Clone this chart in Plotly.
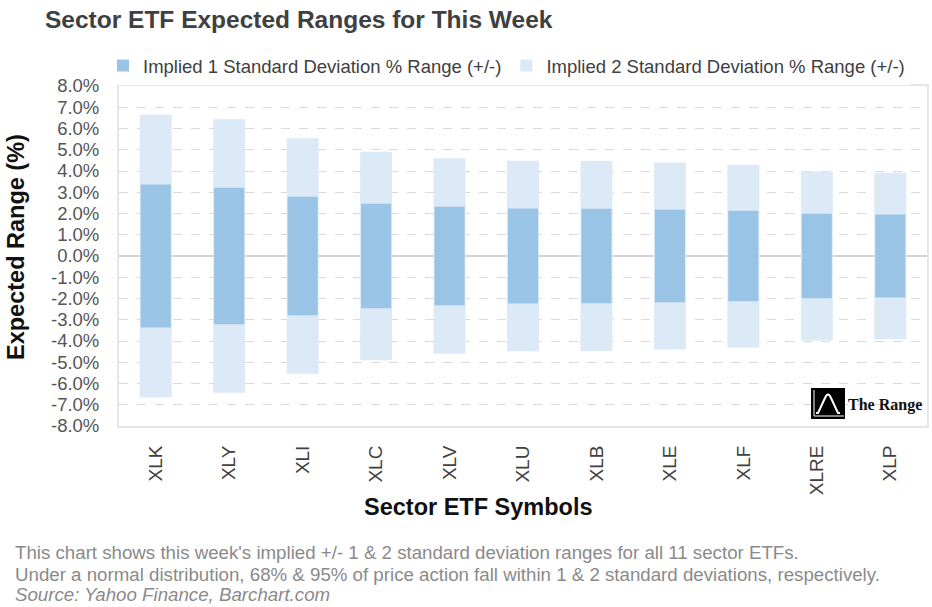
import plotly.graph_objects as go

symbols = ["XLK", "XLY", "XLI", "XLC", "XLV", "XLU", "XLB", "XLE", "XLF", "XLRE", "XLP"]
sd1 = [3.36, 3.21, 2.79, 2.46, 2.32, 2.23, 2.22, 2.18, 2.13, 1.99, 1.95]
sd2 = [6.66, 6.43, 5.54, 4.90, 4.60, 4.48, 4.47, 4.40, 4.30, 3.98, 3.92]
ytick_vals = list(range(-8, 9))
ytick_text = [f"{v:.1f}%" for v in ytick_vals]

W, H = 932, 607
L, R, T, B = 119, 927, 86, 426


def xp(px):
    return (px - L) / (R - L)


def yp(py):
    return (B - py) / (B - T)


fig = go.Figure()
fig.add_trace(go.Bar(
    x=symbols, y=[2 * v for v in sd2], base=[-v for v in sd2],
    name="Implied 2 Standard Deviation % Range (+/-)",
    marker=dict(color="#dce9f6", line=dict(width=0)),
    width=0.435,
))
fig.add_trace(go.Bar(
    x=symbols, y=[2 * v for v in sd1], base=[-v for v in sd1],
    name="Implied 1 Standard Deviation % Range (+/-)",
    marker=dict(color="#9ac4e6", line=dict(width=0)),
    width=0.41,
))

font_main = "Liberation Sans, Arial, sans-serif"

fig.update_layout(
    width=W, height=H,
    margin=dict(l=L, r=W - R, t=T, b=H - B, autoexpand=False),
    barmode="overlay",
    plot_bgcolor="white", paper_bgcolor="white",
    font=dict(family=font_main, color="#404040"),
    title=dict(
        text="<b>Sector ETF Expected Ranges for This Week</b>",
        font=dict(family=font_main, size=24.5, color="#404040"),
        x=45 / W, xanchor="left", xref="container",
        y=1 - 19 / H, yanchor="middle", yref="container",
    ),
    legend=dict(
        orientation="h", traceorder="reversed",
        x=(118 - 15) / W, xanchor="left", xref="container",
        y=1 - 66 / H, yanchor="middle", yref="container",
        font=dict(size=18.5, color="#404040"),
        itemwidth=30,
    ),
    showlegend=True,
    xaxis=dict(
        range=[-0.5, 10.5], tickangle=-90, automargin=False,
        tickfont=dict(size=19, color="#404040"),
        showgrid=False, showline=True, linecolor="#e6e6e6", linewidth=2, mirror=True,
        ticks="", ticklabelstandoff=10,
    ),
    yaxis=dict(
        range=[-8, 8], tickvals=ytick_vals, ticktext=ytick_text, automargin=False,
        tickfont=dict(size=18.5, color="#555555"),
        showgrid=True, gridcolor="#d9d9d9", griddash="dash", gridwidth=1,
        zeroline=True, zerolinecolor="#d3d3d3", zerolinewidth=1.5,
        showline=True, linecolor="#e6e6e6", linewidth=2, mirror=True,
        ticks="", ticklabelstandoff=14,
    ),
)

P = dict(xref="paper", yref="paper", showarrow=False)
foot = dict(size=18.7, color="#8a8a8a")
annotations = [
    dict(text="<b>Expected Range (%)</b>", x=xp(16), y=yp(247), textangle=-90,
         font=dict(size=23.5, color="#111111"), xanchor="center", yanchor="middle", **P),
    dict(text="<b>Sector ETF Symbols</b>", x=xp(478), y=yp(507),
         font=dict(size=23.5, color="#111111"), xanchor="center", yanchor="middle", **P),
    dict(text="This chart shows this week's implied +/- 1 &amp; 2 standard deviation ranges for all 11 sector ETFs.",
         x=xp(13), y=yp(552), font=foot, xanchor="left", yanchor="middle", **P),
    dict(text="Under a normal distribution, 68% &amp; 95% of price action fall within 1 &amp; 2 standard deviations, respectively.",
         x=xp(13), y=yp(574), font=foot, xanchor="left", yanchor="middle", **P),
    dict(text="<i>Source: Yahoo Finance, Barchart.com</i>",
         x=xp(13), y=yp(594), font=foot, xanchor="left", yanchor="middle", **P),
    dict(text="<b>The Range</b>", x=xp(846), y=yp(405),
         font=dict(size=16, color="#111111", family="Liberation Serif, DejaVu Serif, serif"),
         xanchor="left", yanchor="middle", **P),
]
fig.update_layout(annotations=annotations)

# logo
fig.add_shape(type="rect", xref="paper", yref="paper", x0=xp(811), x1=xp(845), y0=yp(419), y1=yp(388),
              fillcolor="black", line=dict(width=0))
fig.add_shape(type="path", xref="paper", yref="paper",
              path=(f"M {xp(816)} {yp(413)} L {xp(818)} {yp(413)} L {xp(825)} {yp(398)} "
                    f"Q {xp(828)} {yp(391)} {xp(831)} {yp(398)} L {xp(838)} {yp(413)} L {xp(840)} {yp(413)}"),
              line=dict(color="white", width=2))
fig.add_shape(type="line", xref="paper", yref="paper", x0=xp(814), x1=xp(814), y0=yp(390), y1=yp(416),
              line=dict(color="white", width=1))
fig.add_shape(type="line", xref="paper", yref="paper", x0=xp(814), x1=xp(844), y0=yp(416), y1=yp(416),
              line=dict(color="white", width=1))

fig.write_html("out.html", config={"displayModeBar": False},
               post_script="document.body.style.margin='0';document.body.style.overflow='hidden';")
